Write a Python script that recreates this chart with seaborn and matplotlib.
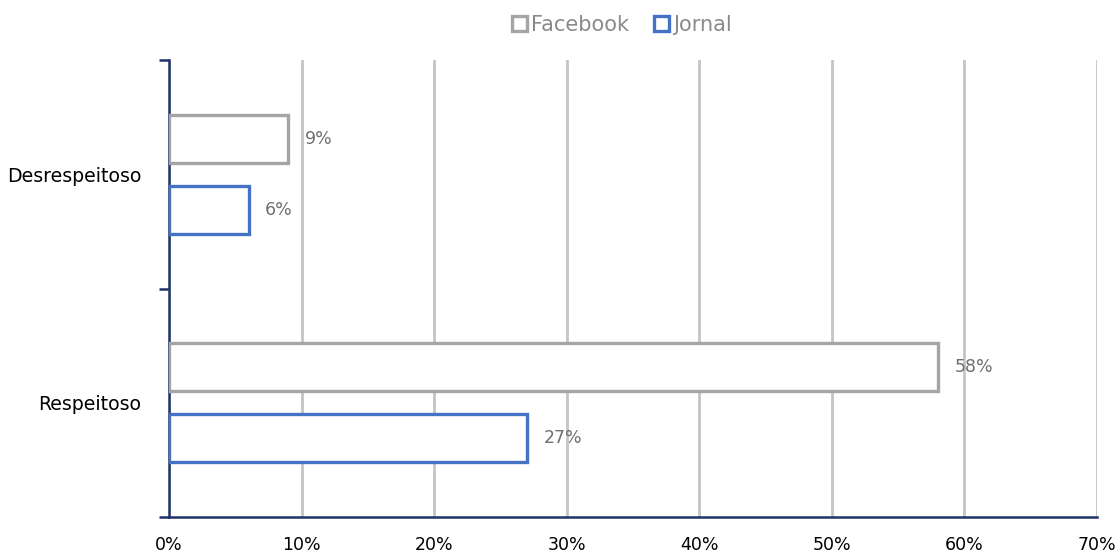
import matplotlib
matplotlib.use("Agg")
import matplotlib.pyplot as plt
import seaborn as sns
import pandas as pd
from matplotlib.patches import Patch

categories = ["Desrespeitoso", "Respeitoso"]
series = ["Facebook", "Jornal"]
facebook = [9, 58]
jornal = [6, 27]
xticks = [0, 10, 20, 30, 40, 50, 60, 70]

df = pd.DataFrame({
    "cat": categories * 2,
    "serie": [series[0]] * 2 + [series[1]] * 2,
    "val": facebook + jornal,
})

colors = {"Facebook": "#a5a5a5", "Jornal": "#4472c4"}
navy = "#1f3368"

sns.set_theme(style="white")
plt.rcParams["font.family"] = ["DejaVu Sans"]

fig = plt.figure(figsize=(11.17, 5.55), dpi=100)
ax = fig.add_axes([169/1117, 1 - 517/555, (1097-169)/1117, (517-60)/555])

sns.barplot(data=df, y="cat", x="val", hue="serie", order=categories,
            hue_order=series, orient="h", width=0.62, gap=0.32,
            palette=colors, ax=ax, legend=False, zorder=3)

for patch, s in zip(ax.patches, [series[0]]*2 + [series[1]]*2):
    patch.set_facecolor("white")
    patch.set_edgecolor(colors[s])
    patch.set_linewidth(2.4)

for cont in ax.containers:
    ax.bar_label(cont, labels=[f"{v:.0f}%" for v in cont.datavalues],
                 padding=12, color="#6f6f6f", fontsize=12.5)

ax.set_xlim(0, 70)
ax.set_ylim(1.5, -0.5)
ax.set_xticks(xticks)
ax.set_xticklabels([f"{t}%" for t in xticks], fontsize=12.5, color="black")
ax.tick_params(axis="x", length=0, pad=14)
ax.tick_params(axis="y", length=0, pad=20, labelsize=13.6, labelcolor="black")
ax.set_yticks([-0.5, 0.5, 1.5], minor=True)
ax.tick_params(axis="y", which="minor", left=True, length=7, width=1.8,
               color=navy, direction="out")
ax.set_xlabel("")
ax.set_ylabel("")

ax.grid(axis="x", color="#c4c4c4", linewidth=2, zorder=0)
ax.set_axisbelow(True)
for side in ["top", "right"]:
    ax.spines[side].set_visible(False)
for side in ["left", "bottom"]:
    ax.spines[side].set_color(navy)
    ax.spines[side].set_linewidth(1.8)

handles = [Patch(facecolor="white", edgecolor=colors[s], linewidth=2.4, label=s) for s in series]
leg = fig.legend(handles=handles, loc="center", bbox_to_anchor=(622/1117, 1 - 25/555),
                 ncol=2, frameon=False, fontsize=15, handlelength=0.7, handleheight=0.7,
                 handletextpad=0.2, columnspacing=1.2)
for t in leg.get_texts():
    t.set_color("#8a8a8a")

fig.savefig("out.png", dpi=100)
